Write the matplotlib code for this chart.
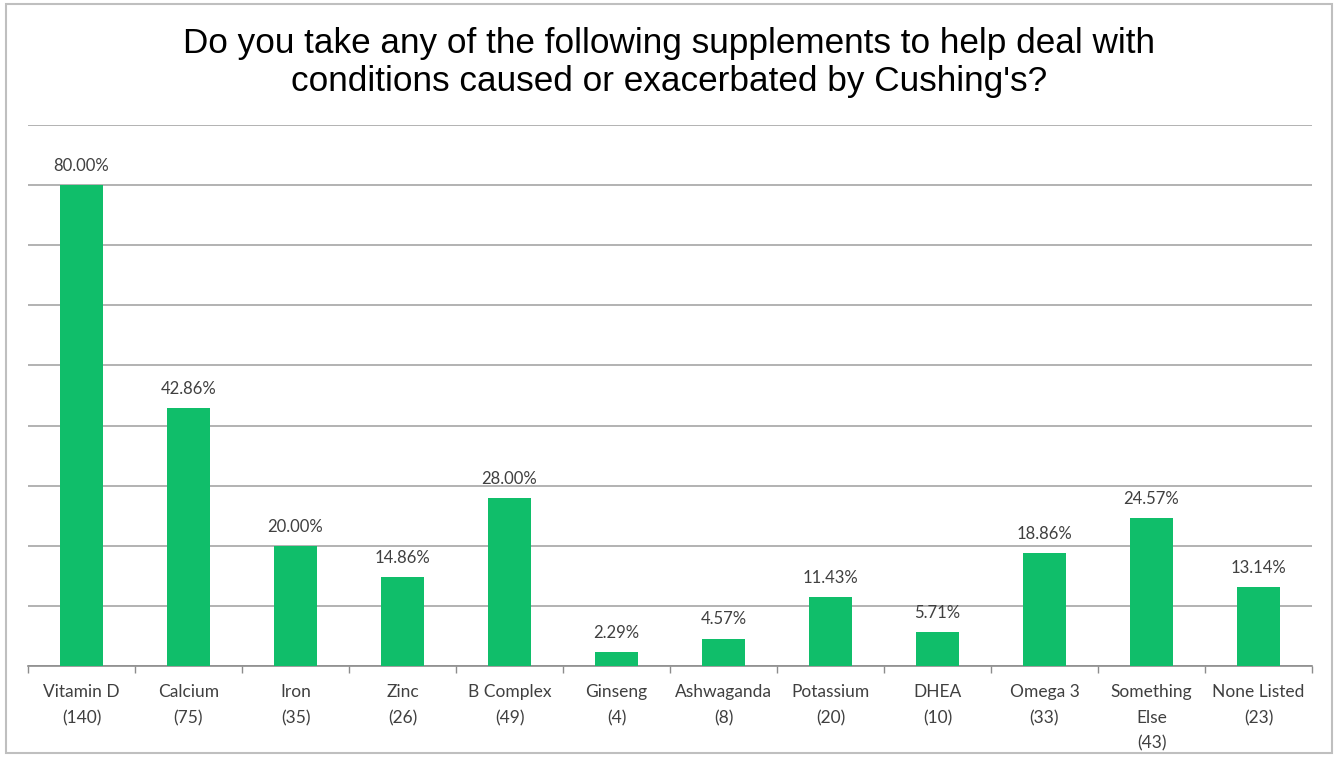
import matplotlib.pyplot as plt
from matplotlib.patches import Rectangle

# Survey data
names = ["Vitamin D", "Calcium", "Iron", "Zinc", "B Complex", "Ginseng",
         "Ashwaganda", "Potassium", "DHEA", "Omega 3", "Something\nElse", "None Listed"]
counts = [140, 75, 35, 26, 49, 4, 8, 20, 10, 33, 43, 23]
percents = [80.00, 42.86, 20.00, 14.86, 28.00, 2.29, 4.57, 11.43, 5.71, 18.86, 24.57, 13.14]

bar_color = "#10BE6A"
grid_color = "#A6A6A6"

fig = plt.figure(figsize=(13.38, 7.59), dpi=100)
fig.patches.append(Rectangle((6 / 1338, 6 / 759), 1326 / 1338, 749 / 759,
                             transform=fig.transFigure, fill=False,
                             edgecolor="#BFBFBF", linewidth=1.5))

ax = fig.add_axes([28 / 1338, 93 / 759, 1284 / 1338, 541 / 759])
x = list(range(len(names)))
ax.bar(x, percents, width=0.4, color=bar_color, zorder=3)

ax.set_xlim(-0.5, len(names) - 0.5)
ax.set_ylim(0, 90)
ax.set_yticks(range(0, 91, 10))
ax.yaxis.grid(True, color=grid_color, linewidth=1.2, zorder=0)
ax.tick_params(axis="y", left=False, labelleft=False)
for s in ["left", "right", "top"]:
    ax.spines[s].set_visible(False)
ax.spines["bottom"].set_color("#8C8C8C")
ax.spines["bottom"].set_linewidth(1.2)

# category boundary ticks
ax.set_xticks([i - 0.5 for i in range(len(names) + 1)])
ax.set_xticklabels([])
ax.tick_params(axis="x", direction="out", length=5, color="#8C8C8C", width=1)
ax.set_xticks(x, minor=True)
ax.set_xticklabels([f"{n}\n({c})" for n, c in zip(names, counts)], minor=True,
                   family="Lato", fontsize=12.5, color="#404040", linespacing=1.75)
ax.tick_params(axis="x", which="minor", length=0, pad=13)

for xi, p in zip(x, percents):
    ax.annotate(f"{p:.2f}%", (xi, p), xytext=(0, 8), textcoords="offset points",
                ha="center", va="bottom", family="Lato", fontsize=12, color="#404040")

fig.text(0.5, 0.918, "Do you take any of the following supplements to help deal with\n"
         "conditions caused or exacerbated by Cushing's?",
         ha="center", va="center", family="Liberation Sans", fontsize=25.3,
         color="black", linespacing=1.18)

fig.savefig("out.png", dpi=100)
